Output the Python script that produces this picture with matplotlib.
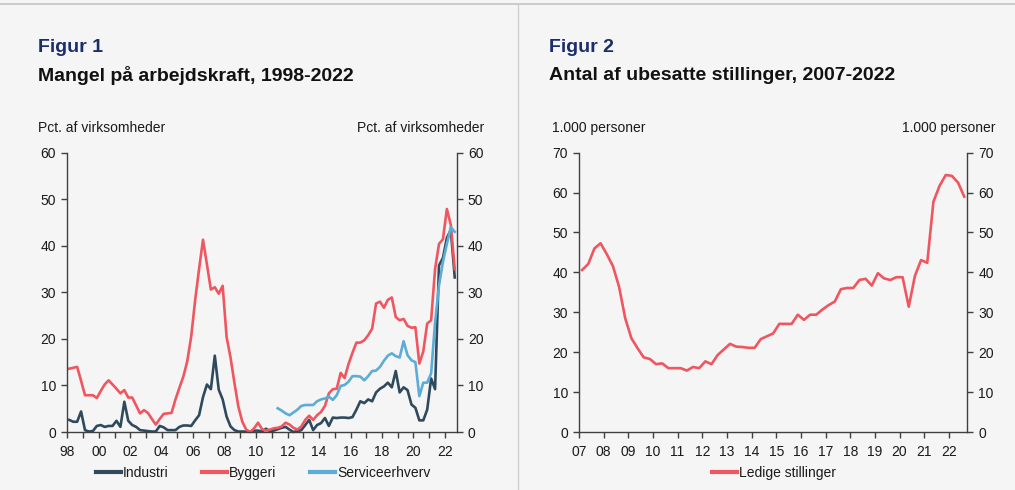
import matplotlib
matplotlib.use("Agg")
import matplotlib.pyplot as plt
import numpy as np

plt.rcParams['font.family'] = ['Liberation Sans', 'DejaVu Sans']

# ---- Figur 1 data: quarterly, 1998Q1 - 2022Q3 ----
years1 = list(range(1998, 2023))
industri = [2.6, 2.2, 2.2, 4.4, 0.4, 0.1, 0.2, 1.3, 1.5, 1.1,
            1.3, 1.3, 2.4, 1.1, 6.5, 2.4, 1.5, 1.1, 0.4, 0.3,
            0.2, 0.1, 0.1, 1.3, 1.0, 0.4, 0.4, 0.4, 1.1, 1.4,
            1.4, 1.3, 2.5, 3.6, 7.5, 10.2, 9.2, 16.4, 9.1, 7.0,
            3.3, 1.2, 0.4, 0.1, 0.1, 0.1, 0.1, 0.3, 0.3, 0.1,
            0.7, 0.2, 0.3, 0.6, 0.9, 1.1, 0.5, 0.0, 0.2, 0.4,
            1.5, 2.6, 0.4, 1.5, 1.9, 3.0, 1.3, 3.1, 3.0, 3.1,
            3.1, 3.0, 3.2, 4.8, 6.6, 6.2, 7.0, 6.6, 8.5, 9.3,
            9.8, 10.6, 9.6, 13.1, 8.5, 9.6, 9.0, 5.9, 5.2, 2.5,
            2.5, 4.8, 11.5, 9.2, 35.8, 37.4, 41.7, 43.4, 33.2]
byggeri = [13.6, 13.8, 14.0, 11.0, 7.9, 7.9, 7.9, 7.3, 8.8, 10.2,
           11.1, 10.2, 9.3, 8.3, 9.0, 7.4, 7.4, 5.7, 4.0, 4.7,
           4.1, 2.8, 1.6, 2.8, 3.9, 4.0, 4.1, 7.0, 9.5, 11.9,
           15.2, 20.5, 28.3, 35.0, 41.3, 36.0, 30.6, 31.1, 29.7, 31.4,
           20.4, 16.0, 10.5, 5.4, 2.2, 0.5, 0.0, 0.8, 2.0, 0.6,
           0.3, 0.5, 0.8, 0.9, 1.2, 2.0, 1.6, 0.9, 0.5, 1.2,
           2.6, 3.5, 2.6, 3.6, 4.3, 5.6, 8.3, 9.2, 9.3, 12.7,
           11.6, 14.6, 17.0, 19.2, 19.2, 19.7, 20.8, 22.2, 27.6, 28.0,
           26.7, 28.4, 28.9, 24.7, 24.0, 24.3, 22.8, 22.4, 22.5, 14.7,
           17.3, 23.3, 24.0, 35.0, 40.4, 41.4, 47.9, 44.5, 35.0]
# Serviceerhverv starts 2011Q2 (quarter index 53)
service_start = 53
service = [5.1, 4.6, 4.0, 3.6, 4.2, 4.8, 5.6, 5.8, 5.8, 5.8,
           6.6, 7.0, 7.2, 7.6, 6.9, 7.9, 9.9, 10.1, 10.8, 12.0,
           12.0, 11.9, 11.1, 12.0, 13.1, 13.2, 14.0, 15.3, 16.4, 16.9,
           16.3, 16.0, 19.5, 16.5, 15.4, 15.0, 7.7, 10.6, 10.6, 12.6,
           23.5, 31.5, 36.5, 40.4, 44.0, 43.0]

# ---- Figur 2 data: quarterly, 2007Q1 - 2022Q3 ----
years2 = list(range(2007, 2023))
ledige = [40.6, 42.1, 46.0, 47.3, 44.6, 41.6, 36.4, 28.5, 23.5, 21.0,
          18.7, 18.3, 17.0, 17.2, 16.0, 16.0, 16.0, 15.4, 16.3, 16.0,
          17.7, 17.0, 19.3, 20.7, 22.1, 21.4, 21.3, 21.1, 21.1, 23.3,
          24.0, 24.7, 27.1, 27.1, 27.1, 29.4, 28.1, 29.4, 29.4, 30.7,
          31.8, 32.7, 35.8, 36.1, 36.1, 38.1, 38.4, 36.7, 39.8, 38.5,
          38.1, 38.8, 38.8, 31.4, 39.1, 43.1, 42.4, 57.7, 61.7, 64.4,
          64.2, 62.5, 59.0]

C_IND = "#2f4a5c"
C_BYG = "#f0565f"
C_SRV = "#5badd6"
AX_C = "#404040"
BG = "#f5f5f5"
TXT = "#1a1a1a"
FS = 10
TFS = 14

fig = plt.figure(figsize=(10.15, 4.90), dpi=100, facecolor=BG)

# frame lines
fig.add_artist(plt.Line2D([0, 1], [1 - 4/490, 1 - 4/490], color="#c4c4c4", lw=1.2))
fig.add_artist(plt.Line2D([517.5/1015, 517.5/1015], [0, 1 - 4/490], color="#d0d0d0", lw=1.0))


def style_axes(ax, ymax, ystep, nslots, years, label_every):
    ax.set_facecolor(BG)
    ax.set_xlim(0, nslots)
    ax.set_ylim(0, ymax)
    ax.spines["top"].set_visible(False)
    for s in ["left", "right", "bottom"]:
        ax.spines[s].set_color(AX_C)
        ax.spines[s].set_linewidth(1.0)
    ax.set_yticks(np.arange(0, ymax + 1, ystep))
    ax.tick_params(axis='y', which='both', left=True, right=True, labelleft=True,
                   labelright=True, direction='out', length=4, width=1.0,
                   color=AX_C, labelsize=FS, labelcolor=TXT, pad=4)
    ticks = [4 * i for i in range(len(years))]
    ax.set_xticks(ticks)
    labels = [f"{y % 100:02d}" if (i % label_every == 0) else "" for i, y in enumerate(years)]
    ax.set_xticklabels(labels)
    ax.tick_params(axis='x', direction='out', length=4, width=1.0, color=AX_C,
                   labelsize=FS, labelcolor=TXT, pad=5)


# ---- Left chart ----
ax1 = fig.add_axes([67.3/1015, 1 - 432/490, 389.4/1015, 279.3/490])
n1 = len(byggeri)
x1 = np.arange(n1) + 0.5
style_axes(ax1, 60, 10, n1, years1, 2)
l_ind, = ax1.plot(x1, industri, color=C_IND, lw=1.9, clip_on=False, label="Industri")
l_byg, = ax1.plot(x1, byggeri, color=C_BYG, lw=1.9, clip_on=False, label="Byggeri")
xs = np.arange(service_start, service_start + len(service)) + 0.5
l_srv, = ax1.plot(xs, service, color=C_SRV, lw=1.9, clip_on=False, label="Serviceerhverv")

# ---- Right chart ----
ax2 = fig.add_axes([579/1015, 1 - 432/490, 388.3/1015, 279.3/490])
n2 = len(ledige)
x2 = np.arange(n2) + 0.5
style_axes(ax2, 70, 10, n2, years2, 1)
l_led, = ax2.plot(x2, ledige, color=C_BYG, lw=1.9, clip_on=False, label="Ledige stillinger")

# ---- Texts ----
fig.text(38/1015, 1 - 47/490, "Figur 1", color="#1b2d6b", fontsize=TFS, fontweight='bold', va='center', ha='left')
fig.text(38/1015, 1 - 75/490, "Mangel på arbejdskraft, 1998-2022", color="#111111", fontsize=TFS,
         fontweight='bold', va='center', ha='left')
fig.text(549/1015, 1 - 47/490, "Figur 2", color="#1b2d6b", fontsize=TFS, fontweight='bold', va='center', ha='left')
fig.text(549/1015, 1 - 75/490, "Antal af ubesatte stillinger, 2007-2022", color="#111111", fontsize=TFS,
         fontweight='bold', va='center', ha='left')

fig.text(38/1015, 1 - 128/490, "Pct. af virksomheder", color=TXT, fontsize=FS, va='center', ha='left')
fig.text(484/1015, 1 - 128/490, "Pct. af virksomheder", color=TXT, fontsize=FS, va='center', ha='right')
fig.text(552/1015, 1 - 128/490, "1.000 personer", color=TXT, fontsize=FS, va='center', ha='left')
fig.text(995/1015, 1 - 128/490, "1.000 personer", color=TXT, fontsize=FS, va='center', ha='right')

# ---- Legends ----
leg1 = fig.legend(handles=[l_ind, l_byg, l_srv], loc='center', bbox_to_anchor=(263/1015, 1 - 473/490),
                  ncol=3, frameon=False, fontsize=FS, handlelength=1.8, handletextpad=0.15,
                  columnspacing=2.4)
leg2 = fig.legend(handles=[l_led], loc='center', bbox_to_anchor=(774/1015, 1 - 473/490),
                  ncol=1, frameon=False, fontsize=FS, handlelength=1.8, handletextpad=0.15)
for leg in (leg1, leg2):
    for h in leg.legend_handles:
        h.set_linewidth(3.0)
    for t in leg.get_texts():
        t.set_color(TXT)

fig.savefig("out.png", dpi=100, facecolor=BG)
